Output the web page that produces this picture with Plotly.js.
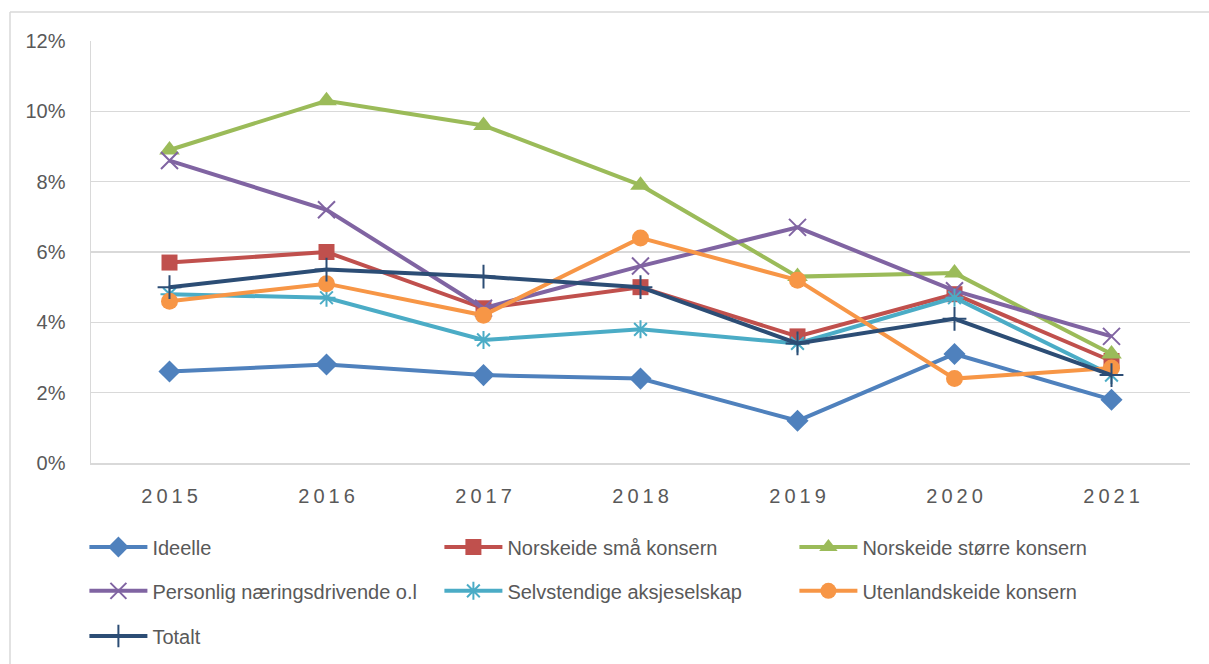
<!DOCTYPE html>
<html>
<head>
<meta charset="utf-8">
<script src="https://cdn.plot.ly/plotly-3.0.1.min.js"></script>
<style>
html,body{margin:0;padding:0;background:#fff;}
#chart{width:1209px;height:664px;}
</style>
</head>
<body>
<div id="chart"></div>
<script>
const years = ["2015","2016","2017","2018","2019","2020","2021"];
const yearLabels = ["2\u20090\u20091\u20095","2\u20090\u20091\u20096","2\u20090\u20091\u20097","2\u20090\u20091\u20098","2\u20090\u20091\u20099","2\u20090\u20092\u20090","2\u20090\u20092\u20091"];

const ideelle        = [2.6, 2.8, 2.5, 2.4, 1.2, 3.1, 1.8];
const norskeideSma   = [5.7, 6.0, 4.4, 5.0, 3.6, 4.8, 2.9];
const norskeideStore = [8.9, 10.3, 9.6, 7.9, 5.3, 5.4, 3.1];
const personlig      = [8.6, 7.2, 4.4, 5.6, 6.7, 4.9, 3.6];
const selvstendige   = [4.8, 4.7, 3.5, 3.8, 3.4, 4.7, 2.5];
const utenlandskeide = [4.6, 5.1, 4.2, 6.4, 5.2, 2.4, 2.7];
const totalt         = [5.0, 5.5, 5.3, 5.0, 3.4, 4.1, 2.5];

const seriesNames = ["Ideelle","Norskeide små konsern","Norskeide større konsern",
  "Personlig næringsdrivende o.l","Selvstendige aksjeselskap","Utenlandskeide konsern","Totalt"];

function pct(a){ return a.map(v => v/100); }

const defs = [
  {y: ideelle,        color:"#4F81BD", symbol:"diamond",          size:17, lw:0, legend:"legend"},
  {y: norskeideSma,   color:"#C0504D", symbol:"square",           size:16, lw:0, legend:"legend"},
  {y: norskeideStore, color:"#9BBB59", symbol:"triangle-up",      size:18, lw:0, legend:"legend"},
  {y: personlig,      color:"#8064A2", symbol:"x-thin-open",      size:17, lw:2, legend:"legend2"},
  {y: selvstendige,   color:"#4BACC6", symbol:"asterisk-open",    size:15, lw:2, legend:"legend2"},
  {y: utenlandskeide, color:"#F79646", symbol:"circle",           size:17, lw:0, legend:"legend2"},
  {y: totalt,         color:"#2C4D75", symbol:"cross-thin-open",  size:17, lw:2, legend:"legend3"}
];

const traces = defs.map((d,i) => ({
  type:"scatter", mode:"lines+markers",
  x: years, y: pct(d.y), name: seriesNames[i], legend: d.legend,
  line:{color:d.color, width:4},
  marker:{symbol:d.symbol, size:d.size, color:d.color, line:{color:d.color, width:d.lw}},
  hoverinfo:"x+y+name"
}));

const font = {family:"Liberation Sans, Arial, sans-serif", size:20, color:"#595959"};
const legBase = {orientation:"h", xanchor:"left", yanchor:"middle", entrywidth:282, entrywidthmode:"pixels",
  itemwidth:58, font:{family:font.family, size:20, color:"#595959"}, bgcolor:"rgba(0,0,0,0)", traceorder:"normal"};

const layout = {
  width:1209, height:664,
  margin:{l:91, r:19, t:41, b:201, autoexpand:false},
  paper_bgcolor:"#ffffff", plot_bgcolor:"#ffffff",
  font: font,
  showlegend:true,
  xaxis:{type:"category", tickvals: years, ticktext: yearLabels, showgrid:false,
    showline:true, linecolor:"#d9d9d9", linewidth:1.5, ticks:"", tickfont:{size:20, color:"#595959"},
    range:[-0.5, 6.5], zeroline:false, fixedrange:true, ticklabelstandoff:14},
  yaxis:{range:[0,0.12], dtick:0.02, tickformat:".0%", gridcolor:"#d9d9d9", gridwidth:1.5,
    showline:true, linecolor:"#d9d9d9", linewidth:1.5, ticks:"", ticklen:0, tickfont:{size:20, color:"#595959"},
    zeroline:false, fixedrange:true, ticklabelstandoff:20},
  legend: Object.assign({}, legBase, {x:-0.006, y:-0.199}),
  legend2: Object.assign({}, legBase, {x:-0.006, y:-0.303}),
  legend3: Object.assign({}, legBase, {x:-0.006, y:-0.410}),
  shapes:[
    {type:"line", xref:"paper", yref:"paper", x0:-0.0737, x1:-0.0737, y0:1.0687, y1:-0.6, line:{color:"#d9d9d9", width:1.5}},
    {type:"line", xref:"paper", yref:"paper", x0:-0.0737, x1:1.05, y0:1.0687, y1:1.0687, line:{color:"#d9d9d9", width:1.5}}
  ]
};

Plotly.newPlot("chart", traces, layout, {displayModeBar:false, staticPlot:true});
</script>
</body>
</html>
